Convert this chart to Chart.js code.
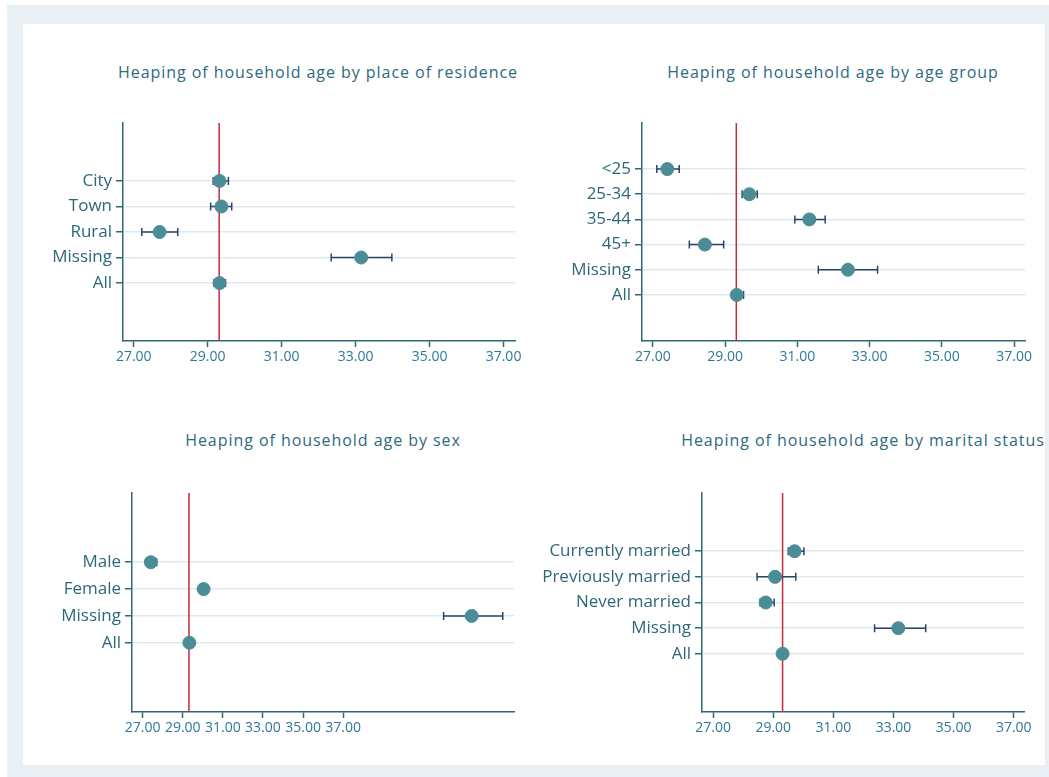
<!DOCTYPE html>
<html>
<head>
<meta charset="utf-8">
<script src="https://cdn.jsdelivr.net/npm/chart.js@4"></script>
<style>
  body { margin: 0; background: #ffffff; width: 1049px; height: 777px; position: relative; overflow: hidden; font-family: "Open Sans", sans-serif; }
  #outer { position: absolute; left: 7px; top: 5px; width: 1042px; height: 772px; background: #e8f0f3; }
  #inner { position: absolute; left: 23px; top: 24px; width: 1022px; height: 741px; background: #ffffff; }
  canvas { position: absolute; }
  .ttl { position: absolute; transform: translate(-50%, -50%); white-space: nowrap; font-size: 16px; letter-spacing: 0.95px; color: #2d6a80; }
</style>
</head>
<body>
<div id="outer"></div>
<div id="inner"></div>
<div class="ttl" style="left:318px; top:72px">Heaping of household age by place of residence</div>
<div class="ttl" style="left:833px; top:72px">Heaping of household age by age group</div>
<div class="ttl" style="left:323px; top:440px">Heaping of household age by sex</div>
<div class="ttl" style="left:863px; top:440px">Heaping of household age by marital status</div>
<canvas id="c1"></canvas>
<canvas id="c2"></canvas>
<canvas id="c3"></canvas>
<canvas id="c4"></canvas>
<script>
// data
const xTicks = [27, 29, 31, 33, 35, 37];
const refLine = 29.31;

const residenceCats = ['City', 'Town', 'Rural', 'Missing', 'All'];
const residenceMean = [29.32, 29.37, 27.70, 33.15, 29.32];
const residenceLow = [29.15, 29.08, 27.22, 32.34, 29.17];
const residenceHigh = [29.56, 29.65, 28.19, 33.98, 29.48];

const ageCats = ['<25', '25-34', '35-44', '45+', 'Missing', 'All'];
const ageMean = [27.40, 29.67, 31.33, 28.44, 32.40, 29.32];
const ageLow = [27.11, 29.47, 30.93, 28.01, 31.58, 29.20];
const ageHigh = [27.73, 29.89, 31.77, 28.96, 33.22, 29.51];

const sexCats = ['Male', 'Female', 'Missing', 'All'];
const sexMean = [27.41, 30.04, 43.41, 29.33];
const sexLow = [27.16, 29.86, 42.01, 29.20];
const sexHigh = [27.70, 30.27, 44.96, 29.45];

const maritalCats = ['Currently married', 'Previously married', 'Never married', 'Missing', 'All'];
const maritalMean = [29.71, 29.06, 28.75, 33.16, 29.31];
const maritalLow = [29.50, 28.46, 28.56, 32.37, 29.18];
const maritalHigh = [30.02, 29.75, 29.03, 34.07, 29.45];

const axisColor = '#2e6a72';
const gridColor = '#dde9ef';
const markerColor = '#4a8d97';
const barColor = '#2c4368';
const redColor = '#c8283e';
const labelColor = '#2e677a';
const tickColor = '#2f7898';

const errBars = {
  id: 'errbars',
  beforeDatasetsDraw(chart, args, opts) {
    const ctx = chart.ctx;
    const xs = chart.scales.x, ys = chart.scales.y;
    const area = chart.chartArea;
    ctx.save();
    // reference line
    const rx = xs.getPixelForValue(opts.ref);
    ctx.strokeStyle = redColor;
    ctx.lineWidth = 1.5;
    ctx.beginPath();
    ctx.moveTo(rx, area.top);
    ctx.lineTo(rx, area.bottom);
    ctx.stroke();
    // confidence intervals
    ctx.strokeStyle = barColor;
    ctx.lineWidth = 1.5;
    for (let i = 0; i < opts.low.length; i++) {
      const y = ys.getPixelForValue(i);
      const x1 = xs.getPixelForValue(opts.low[i]);
      const x2 = xs.getPixelForValue(opts.high[i]);
      ctx.beginPath();
      ctx.moveTo(x1, y); ctx.lineTo(x2, y);
      ctx.moveTo(x1, y - 4); ctx.lineTo(x1, y + 4);
      ctx.moveTo(x2, y - 4); ctx.lineTo(x2, y + 4);
      ctx.stroke();
    }
    ctx.restore();
  }
};

function makePanel(id, box, labelW, cats, mean, low, high, xmin, xmax, margin) {
  const cv = document.getElementById(id);
  const padTop = 20, padRight = 16, axisH = 40;
  const w = Math.round(box.right - box.left + labelW + padRight);
  const h = Math.round(box.bottom - box.top + padTop + axisH);
  cv.width = w; cv.height = h;
  cv.style.width = w + 'px'; cv.style.height = h + 'px';
  cv.style.left = (box.left - labelW) + 'px';
  cv.style.top = (box.top - padTop) + 'px';

  return new Chart(cv.getContext('2d'), {
    type: 'scatter',
    data: {
      datasets: [{
        data: mean.map((m, i) => ({ x: m, y: i })),
        pointRadius: 6.5,
        pointHoverRadius: 6.5,
        pointBackgroundColor: markerColor,
        pointBorderColor: markerColor,
        pointBorderWidth: 1
      }]
    },
    options: {
      responsive: false,
      animation: false,
      events: [],
      layout: { padding: { top: padTop, right: padRight, left: 0, bottom: 0 } },
      plugins: {
        legend: { display: false },
        tooltip: { enabled: false },
        errbars: { low: low, high: high, ref: refLine }
      },
      scales: {
        x: {
          type: 'linear',
          min: xmin,
          max: xmax,
          afterBuildTicks: s => { s.ticks = xTicks.map(v => ({ value: v })); },
          afterFit: s => { s.height = axisH; },
          grid: { drawOnChartArea: false, tickLength: 6, tickColor: axisColor, tickWidth: 1.5 },
          border: { color: axisColor, width: 1.5 },
          ticks: {
            autoSkip: false, maxRotation: 0, padding: 2,
            color: tickColor,
            font: { family: 'Open Sans', size: 14 },
            callback: v => Number(v).toFixed(2)
          }
        },
        y: {
          type: 'linear',
          reverse: true,
          min: -margin,
          max: cats.length - 1 + margin,
          afterBuildTicks: s => { s.ticks = cats.map((c, i) => ({ value: i })); },
          afterFit: s => { s.width = labelW; },
          grid: { color: gridColor, lineWidth: 1.5, tickLength: 7, tickColor: axisColor, tickWidth: 1.5 },
          border: { color: axisColor, width: 1.5 },
          ticks: {
            autoSkip: false, padding: 4,
            color: labelColor,
            font: { family: 'Open Sans', size: 17 },
            callback: (v, i) => cats[i]
          }
        }
      }
    },
    plugins: [errBars]
  });
}

makePanel('c1', { left: 122.5, right: 514, top: 122.7, bottom: 340.7 }, 100,
  residenceCats, residenceMean, residenceLow, residenceHigh, 26.71, 37.31, 2.27);
makePanel('c2', { left: 642, right: 1025, top: 122.7, bottom: 340.7 }, 100,
  ageCats, ageMean, ageLow, ageHigh, 26.70, 37.30, 1.83);
makePanel('c3', { left: 132, right: 514, top: 492.7, bottom: 711.3 }, 100,
  sexCats, sexMean, sexLow, sexHigh, 26.47, 45.52, 2.58);
makePanel('c4', { left: 702.3, right: 1024.3, top: 492.7, bottom: 711.3 }, 180,
  maritalCats, maritalMean, maritalLow, maritalHigh, 26.63, 37.34, 2.27);
</script>
</body>
</html>
